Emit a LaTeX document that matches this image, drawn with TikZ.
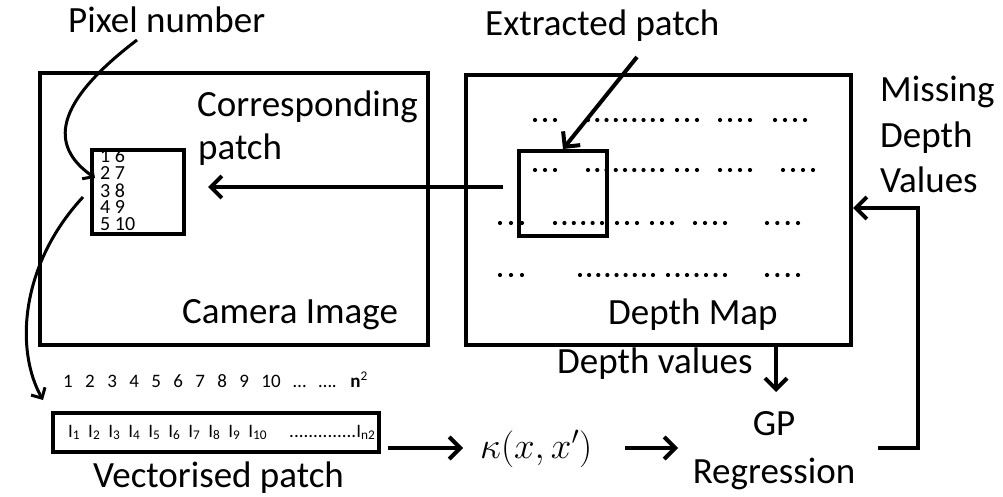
\RequirePackage{fix-cm}
\documentclass[tikz,border=0pt]{standalone}
\usepackage{fontspec}
\setmainfont{Carlito}
\usetikzlibrary{arrows.meta}
\begin{document}
\begin{tikzpicture}[x=1pt,y=-1pt,
  box/.style={draw, line width=4pt, inner sep=0pt, anchor=north west},
  big/.style={font=\fontsize{37}{44}\selectfont, inner sep=0pt, anchor=base west},
  small/.style={font=\fontsize{20}{20}\selectfont, inner sep=0pt, anchor=base west},
  arr/.style={line width=4pt, -{Straight Barb[length=11pt,width=22pt]}},
  carr/.style={line width=3pt, -{Straight Barb[length=8pt,width=16pt]}},
  dotr/.style={fill=black}]
\useasboundingbox (0,0) rectangle (1003,497);

% main boxes
\node[box, minimum width=388pt, minimum height=272pt] (cam) at (38,71) {};
\node[box, minimum width=385pt, minimum height=270pt] (depth) at (464,73) {};
\node[box, minimum width=92pt, minimum height=84pt] (patchA) at (90,148) {};
\node[box, minimum width=88pt, minimum height=85pt] (patchB) at (517,149) {};
\node[box, line width=3.5pt, minimum width=326pt, minimum height=39pt] (vec) at (51,411) {};

% patch numbers
\node[small] (n1) at (100,163) {1 6};
\node[small] (n2) at (100,180) {2 7};
\node[small] (n3) at (100,197) {3 8};
\node[small] (n4) at (100,213) {4 9};
\node[small] (n5) at (100,230) {5 10};

% labels
\node[big] (pixlab) at (68,33) {Pixel number};
\node[big] (extlab) at (485,36) {Extracted patch};
\node[big] (corr1) at (197,117) {Corresponding};
\node[big] (corr2) at (198,160) {patch};
\node[big] (camlab) at (182,323) {Camera Image};
\node[big] (deplab) at (608,324) {Depth Map};
\node[big] (dvlab) at (557,373) {Depth values};
\node[big] (miss1) at (880,102) {Missing};
\node[big] (miss2) at (880,148) {Depth};
\node[big] (miss3) at (880,193) {Values};
\node[big, anchor=base] (gp1) at (774,435) {GP};
\node[big, anchor=base] (gp2) at (774,483) {Regression};
\node[big] (veclab) at (93,487) {Vectorised patch};
\node[big] (kappa) at (480,458) {$\kappa(x,x')$};

% index row
\node[inner sep=0pt, anchor=base west, font=\fontsize{19}{22}\selectfont] (idx) at (63,387)
  {\spaceskip=12.4pt 1 2 3 4 5 6 7 8 9 10 … …. \textbf{n}\textsuperscript{2}};
% vector content
\node[inner sep=0pt, anchor=base west, font=\fontsize{19}{22}\selectfont] (ivec) at (68,437)
  {\spaceskip=8pt I\textsubscript{1} I\textsubscript{2} I\textsubscript{3} I\textsubscript{4} I\textsubscript{5} I\textsubscript{6} I\textsubscript{7} I\textsubscript{8} I\textsubscript{9} I\textsubscript{10}\hspace{22pt}..............I\textsubscript{n2}};

% dots in depth map
\foreach \xa/\xb/\n/\y in {
  535/555/3/120, 588/662/9/120, 677/697/3/120, 720/750/4/120, 775/805/4/120,
  535/555/3/170, 588/662/9/170, 677/697/3/170, 720/750/4/170, 783/813/4/170,
  500/522/3/223, 555/602/6/223, 617/637/3/223, 652/672/3/223, 695/725/4/223, 767/798/4/223,
  500/522/3/275, 580/653/9/275, 668/725/7/275, 767/798/4/275}{
  \pgfmathsetmacro{\stp}{(\xb-\xa)/(\n-1)}
  \foreach \i in {1,...,\n}{
    \fill[dotr] ({\xa+(\i-1)*\stp},\y) circle (2.1pt);
  }
}

% connector end points
\coordinate (pixS) at (137,40);
\coordinate (pixE) at (95,178);
\coordinate (vecS) at (83,197);
\coordinate (vecE) at (43,400);
\coordinate (extS) at (637,57);
\coordinate (lS) at (503,187);
\coordinate (lE) at (208,187);
\coordinate (vkS) at (388,448);
\coordinate (vkE) at (463,448);
\coordinate (kgS) at (625,448);
\coordinate (kgE) at (678,448);
\coordinate (dgS) at (776,343);
\coordinate (dgE) at (776,392);
\coordinate (fbS) at (878,448);
\coordinate (fbE) at (853,208);

% connectors
\draw[carr] (pixS) .. controls (45,110) and (55,150) .. (pixE);
\draw[carr] (vecS) .. controls (20,265) and (15,350) .. (vecE);
\draw[arr] (extS) -- (patchB.north);
\draw[arr] (lS) -- (lE);
\draw[arr] (vkS) -- (vkE);
\draw[arr] (kgS) -- (kgE);
\draw[arr] (dgS) -- (dgE);
\draw[arr] (fbS) -- (918,448) -- (918,208) -- (fbE);
\end{tikzpicture}
\end{document}
